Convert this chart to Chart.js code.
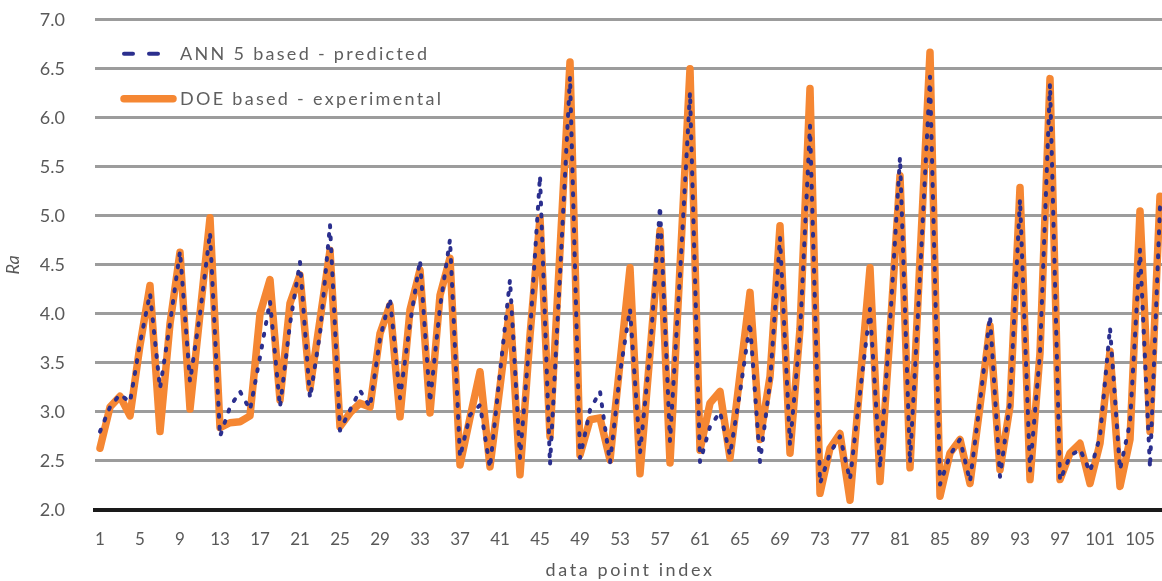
<!DOCTYPE html>
<html>
<head>
<meta charset="utf-8">
<script src="https://cdn.jsdelivr.net/npm/chart.js@4.4.1/dist/chart.umd.min.js"></script>
<style>
  html, body { margin: 0; padding: 0; overflow: hidden; background: #ffffff; }
  #wrap { position: relative; width: 1180px; height: 602px; margin-top: -21px; }
</style>
</head>
<body>
<div id="wrap"><canvas id="c"></canvas></div>
<script>
// Surface roughness Ra for each test run: experimental (DOE) vs ANN 5 prediction
const pointIndex = Array.from({ length: 107 }, (_, i) => String(i + 1));

const annPredicted = [
  2.80, 3.05, 3.18, 3.10, 3.70, 4.21, 3.24, 3.90, 4.64, 3.31,
  4.00, 4.83, 2.75, 3.05, 3.21, 3.02, 3.56, 4.13, 3.05, 3.90,
  4.53, 3.14, 3.80, 4.91, 2.81, 3.02, 3.22, 3.05, 3.75, 4.16,
  3.14, 3.90, 4.55, 3.10, 4.07, 4.76, 2.54, 2.97, 3.07, 2.43,
  3.40, 4.35, 2.53, 3.80, 5.41, 2.46, 4.40, 6.42, 2.53, 3.02,
  3.21, 2.48, 3.40, 4.05, 2.58, 3.60, 5.10, 2.70, 4.40, 6.26,
  2.49, 2.85, 3.00, 2.56, 3.20, 3.91, 2.49, 3.30, 4.78, 2.66,
  3.80, 5.92, 2.27, 2.58, 2.75, 2.31, 3.20, 4.05, 2.43, 3.90,
  5.60, 2.48, 4.40, 6.42, 2.26, 2.56, 2.72, 2.29, 3.10, 3.98,
  2.34, 3.10, 5.17, 2.40, 3.60, 6.35, 2.30, 2.55, 2.62, 2.39,
  2.75, 3.86, 2.41, 2.89, 4.66, 2.43, 5.10
];

const doeExperimental = [
  2.63, 3.05, 3.16, 2.96, 3.68, 4.29, 2.80, 3.90, 4.63, 3.03,
  4.00, 4.98, 2.84, 2.89, 2.90, 2.96, 4.00, 4.35, 3.12, 4.11,
  4.40, 3.24, 3.94, 4.65, 2.85, 2.99, 3.09, 3.05, 3.80, 4.09,
  2.95, 4.04, 4.45, 2.99, 4.19, 4.57, 2.46, 2.94, 3.41, 2.44,
  3.26, 4.08, 2.36, 3.78, 4.98, 2.75, 4.65, 6.57, 2.56, 2.92,
  2.94, 2.51, 3.50, 4.47, 2.37, 3.60, 4.85, 2.48, 4.48, 6.50,
  2.61, 3.09, 3.21, 2.53, 3.38, 4.22, 2.72, 3.36, 4.90, 2.58,
  3.85, 6.30, 2.17, 2.63, 2.78, 2.10, 3.30, 4.47, 2.29, 3.80,
  5.41, 2.43, 4.56, 6.67, 2.14, 2.58, 2.72, 2.27, 3.06, 3.88,
  2.41, 3.06, 5.29, 2.31, 3.60, 6.40, 2.31, 2.58, 2.68, 2.27,
  2.68, 3.62, 2.24, 2.72, 5.05, 2.80, 5.20
];

const seriesNames = ['ANN 5 based - predicted', 'DOE based - experimental'];
const xAxisTitle = 'data point index';
const yAxisTitle = 'Ra';

const TEXT = '#595959';
const NAVY = '#2b2f8e';
const ORANGE = '#f58733';

// Legend in the upper left of the plot, plus the letter-spaced x-axis title
const overlay = {
  id: 'overlay',
  afterDraw(chart) {
    const ctx = chart.ctx;
    const area = chart.chartArea;
    const ds = chart.data.datasets;
    ctx.save();
    ctx.font = '18px Lato, "Open Sans", sans-serif';
    ctx.fillStyle = '#5f5f5f';
    ctx.textBaseline = 'middle';
    ctx.textAlign = 'left';
    ctx.letterSpacing = '2.3px';
    const rows = [area.top + 34, area.top + 79];
    ds.forEach((d, i) => {
      const y = rows[i];
      ctx.save();
      ctx.strokeStyle = d.borderColor;
      ctx.lineWidth = d.borderWidth;
      ctx.lineCap = 'round';
      if (d.borderDash && d.borderDash.length) {
        ctx.lineWidth = 4;
        ctx.setLineDash([9, 16]);
        ctx.beginPath(); ctx.moveTo(area.left + 29, y); ctx.lineTo(area.left + 64, y); ctx.stroke();
      } else {
        ctx.beginPath(); ctx.moveTo(area.left + 29, y); ctx.lineTo(area.left + 78, y); ctx.stroke();
      }
      ctx.restore();
      ctx.fillText(d.label, area.left + 85, y);
    });
    // x-axis title
    ctx.font = '18px Lato, "Open Sans", sans-serif';
    ctx.fillStyle = TEXT;
    ctx.letterSpacing = '2.6px';
    ctx.textAlign = 'center';
    ctx.fillText(xAxisTitle, (area.left + area.right) / 2, area.bottom + 60);
    ctx.restore();
  }
};

new Chart(document.getElementById('c'), {
  type: 'line',
  data: {
    labels: pointIndex,
    datasets: [
      {
        label: seriesNames[0],
        data: annPredicted,
        borderColor: NAVY,
        borderWidth: 4,
        borderDash: [2, 10],
        borderCapStyle: 'round',
        borderJoinStyle: 'round',
        pointRadius: 0,
        tension: 0,
        fill: false
      },
      {
        label: seriesNames[1],
        data: doeExperimental,
        borderColor: ORANGE,
        borderWidth: 7.5,
        borderCapStyle: 'round',
        borderJoinStyle: 'round',
        pointRadius: 0,
        tension: 0,
        fill: false
      }
    ]
  },
  options: {
    responsive: true,
    maintainAspectRatio: false,
    animation: false,
    devicePixelRatio: 1,
    layout: { padding: { top: 0, right: 15, bottom: 0, left: 0 } },
    plugins: {
      legend: { display: false },
      tooltip: { enabled: false }
    },
    scales: {
      x: {
        type: 'category',
        offset: true,
        grid: { display: false, drawTicks: false },
        border: { display: true, color: '#1a1a1a', width: 4 },
        ticks: {
          autoSkip: false,
          maxRotation: 0,
          minRotation: 0,
          padding: 19,
          color: TEXT,
          font: { family: 'Lato, "Open Sans", sans-serif', size: 17 },
          callback(value, index) {
            return index % 4 === 0 ? this.getLabelForValue(value) : '';
          }
        },
        title: { display: false },
        afterFit(scale) { scale.height = 71; }
      },
      y: {
        min: 2,
        max: 7,
        grid: { color: '#9c9c9c', lineWidth: 3, drawTicks: false },
        border: { display: false },
        ticks: {
          stepSize: 0.5,
          padding: 30,
          color: TEXT,
          font: { family: 'Lato, "Open Sans", sans-serif', size: 18 },
          callback: (v) => Number(v).toFixed(1)
        },
        title: {
          display: true,
          text: yAxisTitle,
          color: TEXT,
          font: { family: 'Lato, "Open Sans", sans-serif', size: 18, style: 'italic' },
          padding: { top: 2, bottom: 0 }
        },
        afterFit(scale) { scale.width = 95; }
      }
    }
  },
  plugins: [overlay]
});
</script>
</body>
</html>
